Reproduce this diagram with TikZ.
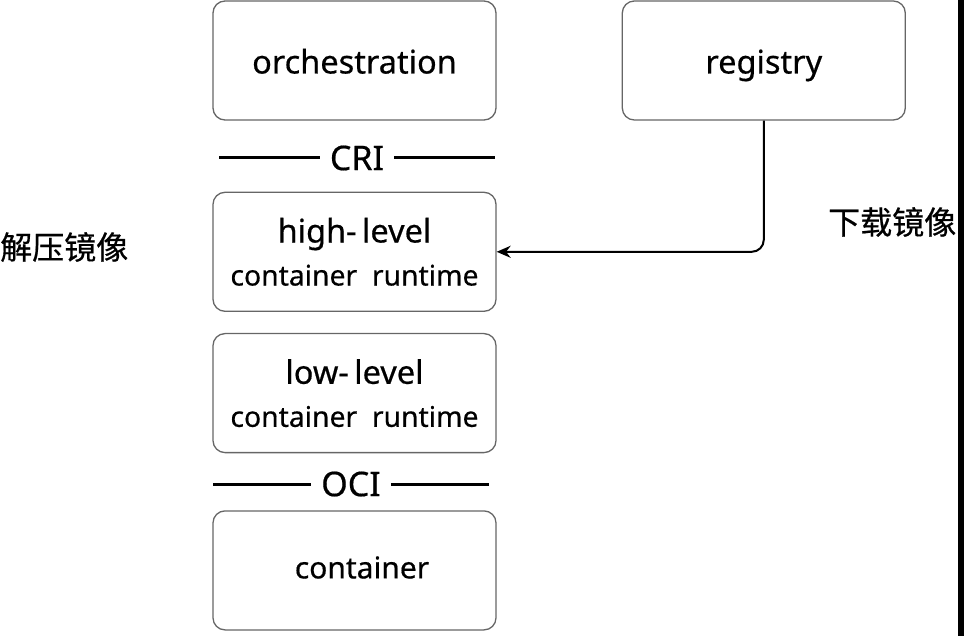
\documentclass[tikz,border=0pt]{standalone}
\usepackage{fontspec}
\setmainfont{Noto Sans}[FakeBold=0.5]
\newfontfamily\cjk{Noto Sans CJK SC}[FakeBold=0.6]
\usetikzlibrary{positioning,arrows.meta}
\tikzset{
layer/.style={
	draw=black!60, line width=1.3pt, rounded corners=12pt,
	minimum width=283pt, minimum height=119pt, align=center,
	font=\fontsize{32.5}{45}\selectfont},
iface/.style={inner sep=10pt, font=\fontsize{34}{36}\selectfont},
rule/.style={line width=3pt},
flow/.style={line width=2pt, rounded corners=12pt,
	-{Stealth[length=14pt,width=12pt]}},
note/.style={inner sep=0pt, font=\cjk\fontsize{32}{36}\selectfont}
}
\newcommand{\rtfont}{\fontsize{28.3}{40}\selectfont}
\newcommand{\lift}{\rule[-9pt]{0pt}{44pt}}

\begin{document}
\begin{tikzpicture}[x=1pt, y=-1pt]
	\useasboundingbox (0,0) rectangle (964,636);
	\node[layer] (orch) at (354.5,60.5) {\lift orchestration};
	\node[layer, right=125pt of orch] (reg) {\lift registry};
	\node[layer, below=71pt of orch] (high) {high-\,level\\[-2pt]{\rtfont container\ \ runtime}};
	\node[layer, below=21pt of high] (low) {low-\,level\\[-2pt]{\rtfont container\ \ runtime}};
	\node[layer, below=57pt of low] (cont) {\fontsize{30}{40}\selectfont\strut\hspace{15pt}container};
	% interfaces
	\node[iface] (cri) at (357,158) {CRI};
	\coordinate (cri l) at (219,158);
	\coordinate (cri r) at (495,158);
	\draw[rule] (cri l) -- (cri.west) (cri.east) -- (cri r);
	\node[iface] (oci) at (351,484) {OCI};
	\coordinate (oci l) at (213,484);
	\coordinate (oci r) at (489,484);
	\draw[rule] (oci l) -- (oci.west) (oci.east) -- (oci r);
	% pull
	\draw[flow] (reg.south) |- (high.east);
	\node[note, anchor=west] (unpack) at (0,247) {解压镜像};
	\node[note, anchor=west] (pull) at (828,222) {下载镜像};
	\fill (958,0) rectangle (964,636);
\end{tikzpicture}
\end{document}
